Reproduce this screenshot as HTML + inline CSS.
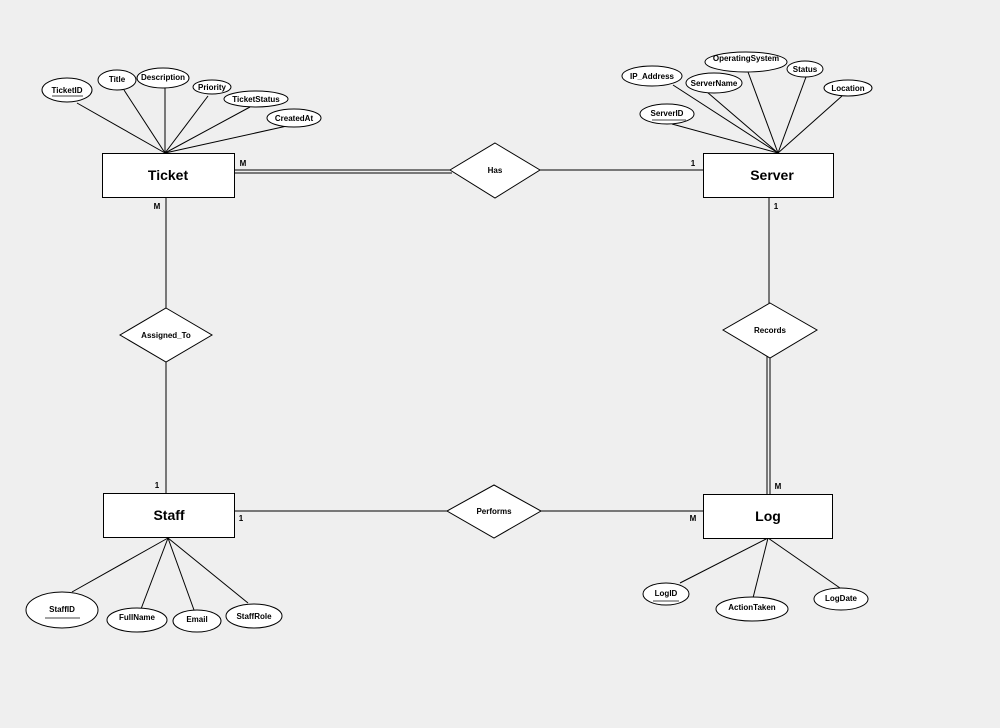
<!DOCTYPE html>
<html><head><meta charset="utf-8"><style>
html,body{margin:0;padding:0;background:#efefef;}
svg{display:block;font-family:"Liberation Sans",Arial,sans-serif;font-weight:bold;}
</style></head><body>
<svg width="1000" height="728" viewBox="0 0 1000 728" xmlns="http://www.w3.org/2000/svg">
<rect width="1000" height="728" fill="#efefef"/>
<g stroke="#000" stroke-width="1" fill="none">
<!-- ticket attr lines -->
<line x1="165" y1="153" x2="77" y2="103"/>
<line x1="165" y1="153" x2="124" y2="90"/>
<line x1="165" y1="153" x2="165" y2="88"/>
<line x1="165" y1="153" x2="208" y2="96"/>
<line x1="165" y1="153" x2="250" y2="107"/>
<line x1="165" y1="153" x2="287" y2="126"/>
<!-- server attr lines -->
<line x1="778" y1="153" x2="673" y2="85"/>
<line x1="778" y1="153" x2="707" y2="92"/>
<line x1="778" y1="153" x2="748" y2="72"/>
<line x1="778" y1="153" x2="806" y2="77"/>
<line x1="778" y1="153" x2="842" y2="96"/>
<line x1="778" y1="153" x2="672" y2="124"/>
<!-- staff -->
<line x1="168" y1="538" x2="72" y2="592"/>
<line x1="168" y1="538" x2="141" y2="609"/>
<line x1="168" y1="538" x2="194" y2="610"/>
<line x1="168" y1="538" x2="248" y2="603"/>
<!-- log -->
<line x1="768" y1="538" x2="680" y2="583"/>
<line x1="768" y1="538" x2="753" y2="598"/>
<line x1="768" y1="538" x2="840" y2="588"/>
<!-- relationships -->
<line x1="235" y1="170" x2="452" y2="170"/>
<line x1="235" y1="173" x2="452" y2="173"/>
<line x1="540" y1="170" x2="703" y2="170"/>
<line x1="166" y1="197" x2="166" y2="308"/>
<line x1="166" y1="362" x2="166" y2="493"/>
<line x1="235" y1="511" x2="447" y2="511"/>
<line x1="541" y1="511" x2="703" y2="511"/>
<line x1="769" y1="197" x2="769" y2="303"/>
<line x1="767" y1="356" x2="767" y2="494"/>
<line x1="770" y1="356" x2="770" y2="494"/>
</g>
<g stroke="#000" stroke-width="1" fill="#fff">
<rect x="102.5" y="153.5" width="132" height="44"/>
<rect x="703.5" y="153.5" width="130" height="44"/>
<rect x="103.5" y="493.5" width="131" height="44"/>
<rect x="703.5" y="494.5" width="129" height="44"/>
<polygon points="495,143 540,170 495,198 450,170"/>
<polygon points="166,308 212,335 166,362 120,335"/>
<polygon points="770,303 817,330 770,358 723,330"/>
<polygon points="494,485 541,511 494,538 447,511"/>
<ellipse cx="67" cy="90" rx="25" ry="12"/>
<ellipse cx="117" cy="80" rx="19" ry="10"/>
<ellipse cx="163" cy="78" rx="26" ry="10"/>
<ellipse cx="212" cy="87" rx="19" ry="7"/>
<ellipse cx="256" cy="99" rx="32" ry="8"/>
<ellipse cx="294" cy="118" rx="27" ry="9"/>
<ellipse cx="652" cy="76" rx="30" ry="10"/>
<ellipse cx="714" cy="83" rx="28" ry="10"/>
<ellipse cx="746" cy="62" rx="41" ry="10"/>
<ellipse cx="805" cy="69" rx="18" ry="8"/>
<ellipse cx="848" cy="88" rx="24" ry="8"/>
<ellipse cx="667" cy="114" rx="27" ry="10"/>
<ellipse cx="62" cy="610" rx="36" ry="18"/>
<ellipse cx="137" cy="620" rx="30" ry="12"/>
<ellipse cx="197" cy="621" rx="24" ry="11"/>
<ellipse cx="254" cy="616" rx="28" ry="12"/>
<ellipse cx="666" cy="594" rx="23" ry="11"/>
<ellipse cx="752" cy="609" rx="36" ry="12"/>
<ellipse cx="841" cy="599" rx="27" ry="11"/>
</g>
<g stroke="#444" stroke-width="1">
<line x1="52" y1="96" x2="83" y2="96"/>
<line x1="652" y1="120" x2="686" y2="120"/>
<line x1="45" y1="618" x2="80" y2="618"/>
<line x1="653" y1="601" x2="679" y2="601"/>
</g>
<g font-size="14" text-anchor="middle" fill="#000">
<text x="168" y="180">Ticket</text>
<text x="772" y="180">Server</text>
<text x="169" y="520">Staff</text>
<text x="768" y="521">Log</text>
</g>
<g font-size="8" text-anchor="middle" fill="#000">
<text x="495" y="173">Has</text>
<text x="166" y="338">Assigned_To</text>
<text x="770" y="333">Records</text>
<text x="494" y="514">Performs</text>
<text x="67" y="93">TicketID</text>
<text x="117" y="82">Title</text>
<text x="163" y="80">Description</text>
<text x="212" y="90">Priority</text>
<text x="256" y="102">TicketStatus</text>
<text x="294" y="121">CreatedAt</text>
<text x="652" y="79">IP_Address</text>
<text x="714" y="86">ServerName</text>
<text x="746" y="61">OperatingSystem</text>
<text x="805" y="72">Status</text>
<text x="848" y="91">Location</text>
<text x="667" y="116">ServerID</text>
<text x="62" y="612">StaffID</text>
<text x="137" y="620">FullName</text>
<text x="197" y="622">Email</text>
<text x="254" y="619">StaffRole</text>
<text x="666" y="596">LogID</text>
<text x="752" y="610">ActionTaken</text>
<text x="841" y="601">LogDate</text>
<text x="243" y="166">M</text>
<text x="693" y="166">1</text>
<text x="157" y="209">M</text>
<text x="157" y="488">1</text>
<text x="241" y="521">1</text>
<text x="693" y="521">M</text>
<text x="776" y="209">1</text>
<text x="778" y="489">M</text>
</g>
</svg>
</body></html>
